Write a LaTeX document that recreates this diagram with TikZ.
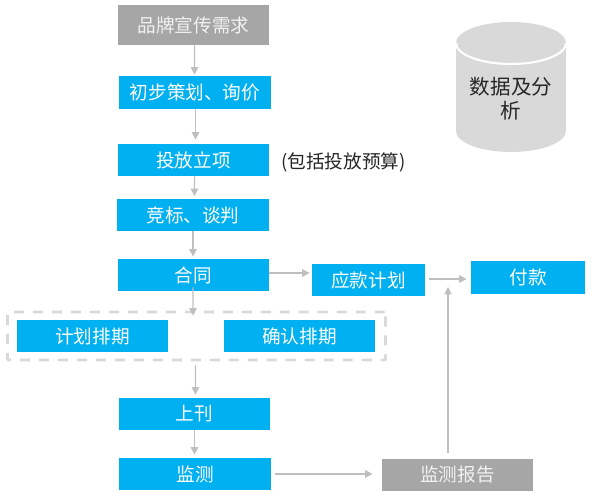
\documentclass[tikz,border=0pt]{standalone}
\usepackage{fontspec}
\setmainfont{Noto Sans CJK SC}
\usetikzlibrary{arrows.meta}
\definecolor{boxblue}{HTML}{00B0F0}
\definecolor{boxgray}{HTML}{A6A6A6}
\definecolor{linegray}{HTML}{BFBFBF}
\definecolor{pale}{HTML}{D9D9D9}
\tikzset{
	stepbox/.style={fill=boxblue, text=white, font=\fontsize{10.6pt}{13pt}\selectfont, inner sep=0pt,
		minimum width=3.02cm, minimum height=.64cm},
	graybox/.style={stepbox, fill=boxgray, text=white!85!boxgray},
	flow/.style={draw=linegray, line width=.6pt, -{Triangle[length=.15cm, width=.15cm]}},
}
\begin{document}
\begin{tikzpicture}
	\useasboundingbox (0,0) rectangle (11.96,9.96);
	% dashed frame goes first
	\node (planbox) [draw=pale, line width=1.6pt, dash pattern=on 5.7pt off 5.1pt, rounded corners=.5pt,
		minimum width=7.56cm, minimum height=.96cm, inner sep=0pt] at (3.93,3.24) {};
	% main column
	\node (brand) [graybox, minimum height=.8cm] at (3.87,9.46) {品牌宣传需求};
	\node (draft) [stepbox, minimum width=3.04cm, minimum height=.66cm] at (3.90,8.11) {初步策划、询价};
	\node (launch) [stepbox] at (3.87,6.76) {投放立项};
	\node (bid) [stepbox, minimum width=3.04cm] at (3.86,5.66) {竞标、谈判};
	\node (contract) [stepbox] at (3.87,4.46) {合同};
	\node (schedule) [stepbox] at (1.85,3.24) {计划排期};
	\node (confirm) [stepbox] at (5.99,3.24) {确认排期};
	\node (publish) [stepbox] at (3.89,1.68) {上刊};
	\node (monitor) [stepbox, minimum width=3.04cm] at (3.90,.48) {监测};
	% right side
	\node (report) [graybox] at (9.15,.46) {监测报告};
	\node (payplan) [stepbox, minimum width=2.26cm] at (7.37,4.36) {应款计划};
	\node (payment) [stepbox, minimum width=2.28cm, minimum height=.66cm] at (10.56,4.41) {付款};
	\node (budget) [anchor=west, inner sep=0pt, text=black!85, font=\fontsize{10.6pt}{13pt}\selectfont] at (5.62,6.72) {(包括投放预算)};
	\coordinate (paytip) at (8.96,4.22);
	% arrows
	\draw [flow, shorten >=.02cm] ([xshift=.02cm]brand.south) -- ([xshift=-.01cm]draft.north);
	\draw [flow, shorten >=.08cm] ([xshift=.01cm]draft.south) -- ([xshift=.04cm]launch.north);
	\draw [flow, shorten >=.05cm] ([xshift=.02cm]launch.south) -- ([xshift=.03cm]bid.north);
	\draw [flow, shorten >=.04cm] (bid.south) -- ([xshift=-.01cm]contract.north);
	\draw [flow] ([xshift=-.01cm, yshift=.08cm]contract.south) -- ([xshift=-.07cm, yshift=-.1cm]planbox.north);
	\draw [flow, shorten <=.08cm, shorten >=.06cm] ([xshift=-.02cm]planbox.south) -- ([xshift=.02cm]publish.north);
	\draw [flow, shorten >=.06cm] (publish.south) -- ([xshift=-.01cm]monitor.north);
	\draw [flow, shorten <=.08cm, shorten >=.18cm] (monitor.east) -- (monitor.east -| report.west);
	\draw [flow, shorten >=.04cm] ([yshift=.04cm]contract.east) -- ([yshift=.04cm]contract.east -| payplan.west);
	\draw [flow, shorten <=.08cm, shorten >=.08cm] ([yshift=.02cm]payplan.east) -- ([yshift=.02cm]payplan.east -| payment.west);
	\draw [flow, shorten <=.12cm] (paytip |- report.north) -- (paytip);
	% database
	\fill [pale] (9.12,9.1) -- (9.12,7.34) arc (180:360:1.1cm and .42cm) -- (11.32,9.1) arc (0:180:1.1cm and .42cm);
	\draw [white, line width=1.2pt] (9.12,9.1) arc (180:360:1.1cm and .42cm);
	\node (database) [align=center, inner sep=0pt, text=black!85, font=\fontsize{11.7pt}{13.7pt}\selectfont] at (10.22,7.98) {数据及分\\析};
\end{tikzpicture}
\end{document}
